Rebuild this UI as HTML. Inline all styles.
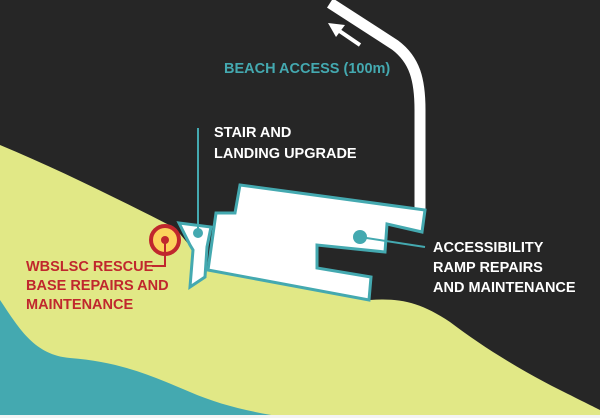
<!DOCTYPE html>
<html><head><style>
html,body{margin:0;padding:0;background:#262626;}
svg{display:block;}
text{font-family:"Liberation Sans",sans-serif;font-weight:bold;font-size:14.5px;}
</style></head><body>
<svg width="600" height="418" viewBox="0 0 600 418" xmlns="http://www.w3.org/2000/svg">
<rect width="600" height="418" fill="#262626"/>
<path d="M0,145 C60,170 120,200 175,228 L210,270 L370,300 C400,298 420,302 450,322 C480,345 520,370 560,390 C580,400 600,410 600,410 L600,418 L0,418 Z" fill="#e1e886"/>
<path d="M0,300 C20,330 35,355 70,358 C120,362 150,375 190,392 C220,405 250,412 290,418 L0,418 Z" fill="#44a9b0"/>
<rect x="0" y="415" width="600" height="3" fill="#f4f4f4"/>
<path d="M330,3 L395,45 C415,60 420,80 420,110 L420,212" fill="none" stroke="#fff" stroke-width="11"/>
<path d="M360,45 L338,30" stroke="#fff" stroke-width="4"/>
<polygon points="328,23 345,25 336,37" fill="#fff"/>
<polygon points="240,185 425,210 422,232 387,224 385,252 317,245 317,268 371,277 369,300 208,270 216,213 235,213" fill="#fff" stroke="#44a9b0" stroke-width="3" stroke-linejoin="miter"/>
<polygon points="179,223 211,227 207,247 205,277 190,287 193,250 190,245" fill="#fff" stroke="#44a9b0" stroke-width="3"/>
<line x1="198" y1="128" x2="198" y2="233" stroke="#44a9b0" stroke-width="2"/>
<circle cx="198" cy="233" r="5" fill="#44a9b0"/>
<line x1="360" y1="237" x2="425" y2="247" stroke="#44a9b0" stroke-width="2"/>
<circle cx="360" cy="237" r="7" fill="#44a9b0"/>
<circle cx="165" cy="240" r="14" fill="#fcd35c" stroke="#c0272d" stroke-width="4"/>
<circle cx="165" cy="240" r="4" fill="#c0272d"/>
<polyline points="165,240 165,266 152,266" fill="none" stroke="#c0272d" stroke-width="2"/>
<text x="224" y="73" fill="#44a9b0">BEACH ACCESS (100m)</text>
<text x="214" y="137" fill="#fff">STAIR AND</text>
<text x="214" y="158" fill="#fff">LANDING UPGRADE</text>
<text x="433" y="252" fill="#fff">ACCESSIBILITY</text>
<text x="433" y="272" fill="#fff">RAMP REPAIRS</text>
<text x="433" y="292" fill="#fff">AND MAINTENANCE</text>
<text x="26" y="271" fill="#c0272d">WBSLSC RESCUE</text>
<text x="26" y="290" fill="#c0272d">BASE REPAIRS AND</text>
<text x="26" y="309" fill="#c0272d">MAINTENANCE</text>
</svg>
</body></html>
